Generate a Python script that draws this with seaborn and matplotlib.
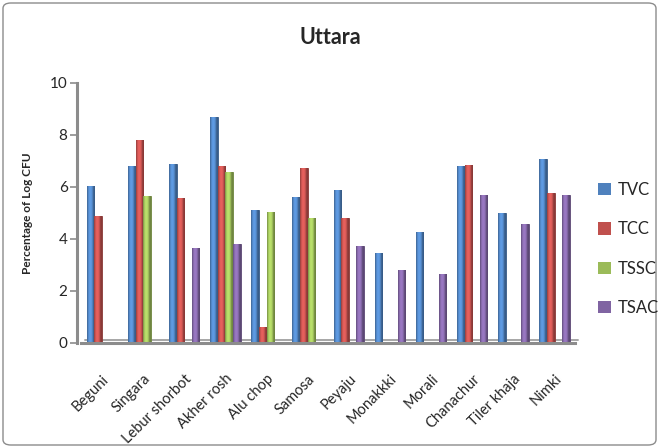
import matplotlib
matplotlib.use("Agg")
import matplotlib.pyplot as plt
import seaborn as sns
import pandas as pd
import numpy as np
from matplotlib.patches import FancyBboxPatch, Patch
from matplotlib.colors import to_rgb

# Microbial load of street foods sampled in Uttara
categories = ["Beguni", "Singara", "Lebur shorbot", "Akher rosh", "Alu chop", "Samosa",
              "Peyaju", "Monakkki", "Morali", "Chanachur", "Tiler khaja", "Nimki"]
series_names = ["TVC", "TCC", "TSSC", "TSAC"]
tvc = [6.03, 6.79, 6.88, 8.67, 5.12, 5.62, 5.89, 3.45, 4.27, 6.79, 4.97, 7.05]
tcc = [4.88, 7.79, 5.58, 6.79, 0.62, 6.71, 4.78, 0.0, 0.0, 6.82, 0.0, 5.74]
tssc = [0.0, 5.65, 0.0, 6.58, 5.04, 4.81, 0.0, 0.0, 0.0, 0.0, 0.0, 0.0]
tsac = [0.0, 0.0, 3.65, 3.81, 0.0, 0.0, 3.70, 2.78, 2.64, 5.68, 4.58, 5.69]
y_ticks = [0, 2, 4, 6, 8, 10]

colors = ["#4F81BD", "#C0504D", "#9BBB59", "#8064A2"]

df = pd.DataFrame({
    "Food": categories * 4,
    "Series": [s for s in series_names for _ in categories],
    "Value": tvc + tcc + tssc + tsac,
})

sns.set_theme(style="white")
plt.rcParams["font.family"] = ["Lato", "DejaVu Sans"]

W, H = 659, 448
fig = plt.figure(figsize=(W / 100, H / 100), dpi=100)

# outer chart border
fig.patches.append(FancyBboxPatch((3 / W, 3 / H), 1 - 6 / W, 1 - 6 / H,
                                  boxstyle="round,pad=0,rounding_size=0.012",
                                  transform=fig.transFigure, fill=False,
                                  edgecolor="#8C8C8C", linewidth=1.0))

x0, x1 = 81.4, 575.1
y0, y1 = 342.7, 82.7
ax = fig.add_axes([x0 / W, 1 - y0 / H, (x1 - x0) / W, (y0 - y1) / H])

sns.barplot(data=df, x="Food", y="Value", hue="Series", palette=colors,
            width=0.74, ax=ax, legend=False, saturation=1, errorbar=None)


def shade(color):
    """Horizontal cylinder-like shading for one bar colour."""
    base = np.array(to_rgb(color))
    t = np.linspace(0, 1, 64)
    light = 0.72 + 0.5 * np.sin(np.pi * np.clip(t * 1.2, 0, 1)) ** 0.8
    light = np.clip(light, 0.6, 1.2)
    rgb = np.clip(base[None, :] * light[:, None], 0, 1)
    return rgb[None, :, :]


for container, col in zip(ax.containers, colors):
    img = shade(col)
    dark = tuple(np.array(to_rgb(col)) * 0.7)
    for bar in container:
        h = bar.get_height()
        if h <= 0:
            continue
        bx, bw = bar.get_x(), bar.get_width()
        bar.set_edgecolor(dark)
        bar.set_linewidth(0.6)
        im = ax.imshow(img, extent=[bx, bx + bw, 0, h], aspect="auto",
                       interpolation="bilinear", zorder=bar.get_zorder() + 0.1)
        im.set_clip_path(bar)

ax.set_ylim(0, 10)
ax.set_xlim(-0.5, 11.5)
ax.set_yticks(y_ticks)
ax.set_yticklabels([str(t) for t in y_ticks], fontsize=13)
ax.set_xticks(range(len(categories)))
ax.set_xticklabels(categories, rotation=45, ha="right", rotation_mode="anchor",
                   fontsize=10.5)
ax.set_xlabel("")
ax.set_ylabel("Percentage of Log CFU", fontsize=8.5, fontweight="bold", labelpad=12)

for side in ["top", "right"]:
    ax.spines[side].set_visible(False)
ax.spines["left"].set_position(("outward", 3))
ax.spines["left"].set_color("#8C8C8C")
ax.spines["left"].set_linewidth(2.2)
ax.spines["bottom"].set_color("#8C8C8C")
ax.spines["bottom"].set_linewidth(2.2)
ax.tick_params(axis="y", which="both", left=True, length=5, width=1.2,
               color="#8C8C8C", pad=2)
ax.tick_params(axis="x", bottom=False, pad=15)
ax.set_facecolor("white")

# floor edge of the plot area
ax.plot([-0.42, 11.58], [0.12, 0.12], transform=ax.transData, color="#A6A6A6",
        linewidth=1.4, clip_on=False, zorder=0.5)

fig.text(330 / W, 1 - 38 / H, "Uttara", ha="center", va="center",
         fontsize=15.5, fontweight="bold")

handles = [Patch(facecolor=c, edgecolor="none") for c in colors]
fig.legend(handles, series_names, loc="center left",
           bbox_to_anchor=(590 / W, 1 - 249 / H), frameon=False, fontsize=12,
           handlelength=0.75, handleheight=0.75, handletextpad=0.4,
           labelspacing=1.4, borderpad=0)

fig.savefig("out.png", dpi=100)
